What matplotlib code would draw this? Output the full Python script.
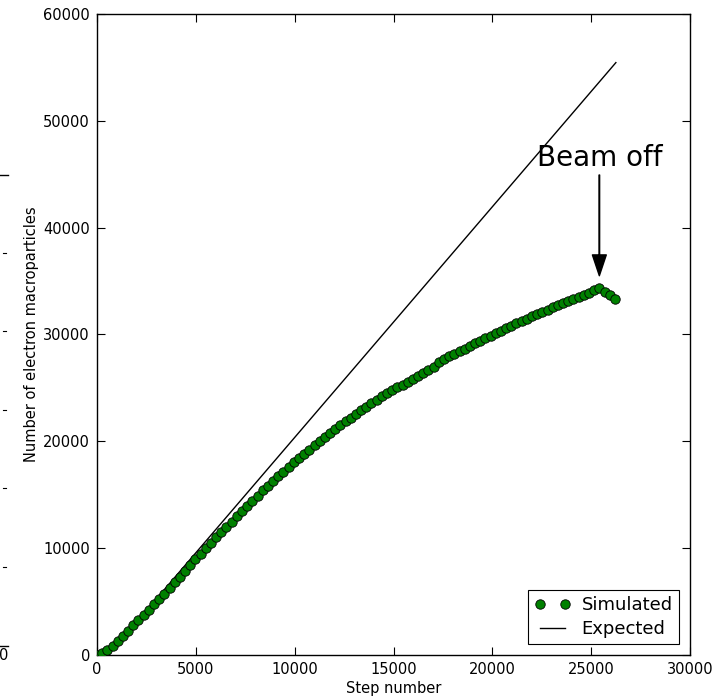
import matplotlib
matplotlib.use("Agg")
import matplotlib.pyplot as plt
from matplotlib.lines import Line2D

# ---- data ----
step_interval = 262
simulated = [
    0, 150, 450, 800, 1280, 1780, 2280, 2790, 3280, 3760,
    4250, 4730, 5230, 5750, 6280, 6810, 7340, 7870, 8410, 8950,
    9480, 9990, 10490, 11000, 11500, 11990, 12490, 12990, 13480, 13960,
    14440, 14920, 15400, 15860, 16300, 16740, 17170, 17600, 18030, 18430,
    18820, 19220, 19620, 20020, 20420, 20800, 21180, 21540, 21880, 22230,
    22590, 22930, 23260, 23590, 23910, 24200, 24480, 24760, 25040, 25310,
    25590, 25860, 26140, 26420, 26680, 26950, 27380, 27680, 27950, 28200,
    28450, 28680, 28920, 29160, 29400, 29630, 29860, 30100, 30340, 30580,
    30810, 31040, 31260, 31480, 31700, 31920, 32130, 32340, 32540, 32740,
    32940, 33130, 33330, 33520, 33720, 33920, 34120, 34350, 33950, 33700,
    33300,
]
steps = [i * step_interval for i in range(len(simulated))]

expected_x = [570, 26250]
expected_y = [0, 55450]

beam_off_step = 25414
beam_off_tip = 35500
beam_off_text_y = 46500

xticks = [0, 5000, 10000, 15000, 20000, 25000, 30000]
yticks = [0, 10000, 20000, 30000, 40000, 50000, 60000]

# ---- figure ----
W, H = 717, 698
fig = plt.figure(figsize=(W / 100, H / 100), dpi=100)
fig.patch.set_facecolor("white")
ax = fig.add_axes([97 / W, 1 - 655 / H, (690 - 97) / W, (655 - 14) / H])

ax.plot(steps, simulated, linestyle="none", marker="o", markersize=6.8,
        markerfacecolor="#008000", markeredgecolor="black",
        markeredgewidth=0.6, label="Simulated", zorder=3)
ax.plot(expected_x, expected_y, color="black", linewidth=1.0,
        label="Expected", zorder=2)

ax.set_xlim(0, 30000)
ax.set_ylim(0, 60000)
ax.set_xticks(xticks)
ax.set_yticks(yticks)
ax.tick_params(direction="in", top=True, right=True, length=5.5,
               width=0.8, labelsize=10.5, pad=5)
for sp in ax.spines.values():
    sp.set_linewidth(1.0)

ax.set_xlabel("Step number", fontsize=10.5, labelpad=3)
ax.set_ylabel("Number of electron macroparticles", fontsize=10.5, labelpad=3)

ax.annotate("Beam off", xy=(beam_off_step, beam_off_tip),
            xytext=(beam_off_step, beam_off_text_y),
            ha="center", va="center", fontsize=20,
            arrowprops=dict(facecolor="black", edgecolor="black",
                            width=0.4, headwidth=10, headlength=15,
                            shrink=0.0))

leg = ax.legend(loc="lower right", numpoints=2, fontsize=13,
                fancybox=False, framealpha=1, edgecolor="black",
                handlelength=2.0, borderaxespad=0.6, borderpad=0.35,
                labelspacing=0.3, handletextpad=0.6)
leg.get_frame().set_linewidth(0.8)

# ---- stray marks at the left edge of the reference image ----
def fig_hline(x0, x1, y, lw=1.0):
    fig.add_artist(Line2D([x0 / W, x1 / W], [1 - y / H, 1 - y / H],
                          color="black", linewidth=lw,
                          transform=fig.transFigure))

fig_hline(0, 8, 175)
for yy in [253, 331, 410, 488, 567]:
    fig_hline(3, 6, yy, lw=0.8)
fig_hline(0, 8, 646)
fig.text(8 / W, 1 - 655 / H, "0", fontsize=10.5, ha="right", va="center")

fig.savefig("out.png", dpi=100)
